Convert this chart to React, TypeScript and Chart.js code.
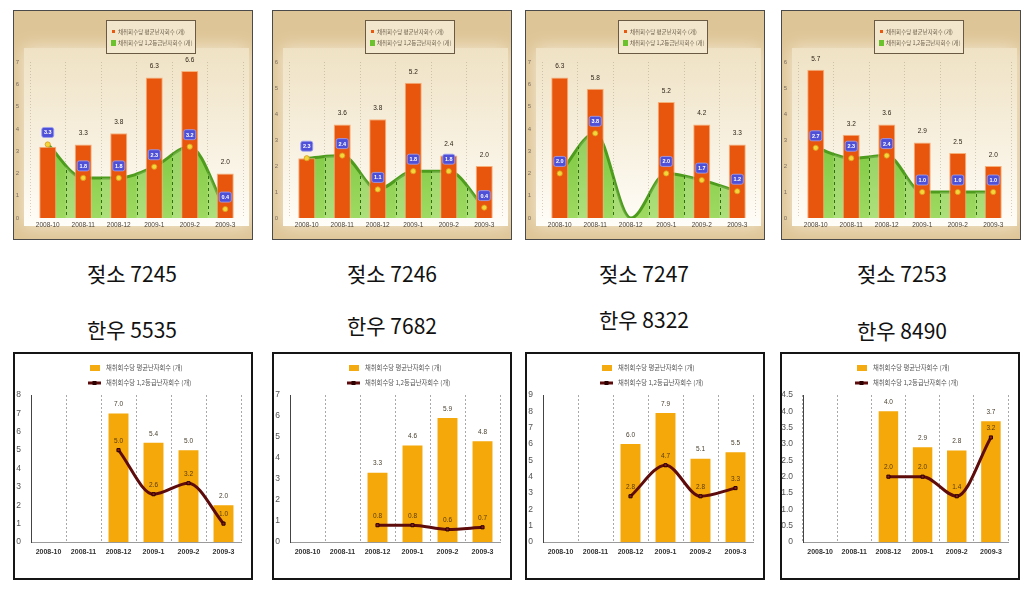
import React, { useEffect, useRef } from 'react';
import { Chart, registerables } from 'chart.js';
Chart.register(...registerables);

// ---------- data ----------
const months = ['2008-10', '2008-11', '2008-12', '2009-1', '2009-2', '2009-3'];
const legendAvg = '채취회수당 평균난자회수 (개)';
const legendGood = '채취회수당 1,2등급난자회수 (개)';

// 젖소 (dairy) – top row
const dairyIds = ['7245', '7246', '7247', '7253'];
const dairy7245Avg = [3.2, 3.3, 3.8, 6.3, 6.6, 2.0];
const dairy7245Good = [3.3, 1.8, 1.8, 2.3, 3.2, 0.4];
const dairy7246Avg = [2.3, 3.6, 3.8, 5.2, 2.4, 2.0];
const dairy7246Good = [2.3, 2.4, 1.1, 1.8, 1.8, 0.4];
const dairy7247Avg = [6.3, 5.8, null, 5.2, 4.2, 3.3];
const dairy7247Good = [2.0, 3.8, 0, 2.0, 1.7, 1.2];
const dairy7253Avg = [5.7, 3.2, 3.6, 2.9, 2.5, 2.0];
const dairy7253Good = [2.7, 2.3, 2.4, 1.0, 1.0, 1.0];
const dairyMax = [7, 6, 7, 6];

// 한우 (Hanwoo) – bottom row
const hanwooIds = ['5535', '7682', '8322', '8490'];
const hanwoo5535Avg = [null, null, 7.0, 5.4, 5.0, 2.0];
const hanwoo5535Good = [null, null, 5.0, 2.6, 3.2, 1.0];
const hanwoo7682Avg = [null, null, 3.3, 4.6, 5.9, 4.8];
const hanwoo7682Good = [null, null, 0.8, 0.8, 0.6, 0.7];
const hanwoo8322Avg = [null, null, 6.0, 7.9, 5.1, 5.5];
const hanwoo8322Good = [null, null, 2.8, 4.7, 2.8, 3.3];
const hanwoo8490Avg = [null, null, 4.0, 2.9, 2.8, 3.7];
const hanwoo8490Good = [null, null, 2.0, 2.0, 1.4, 3.2];
const hanwooMax = [8, 7, 9, 4.5];
const hanwooStep = [1, 1, 1, 0.5];

const dairyAvg = [dairy7245Avg, dairy7246Avg, dairy7247Avg, dairy7253Avg];
const dairyGood = [dairy7245Good, dairy7246Good, dairy7247Good, dairy7253Good];
const hanwooAvg = [hanwoo5535Avg, hanwoo7682Avg, hanwoo8322Avg, hanwoo8490Avg];
const hanwooGood = [hanwoo5535Good, hanwoo7682Good, hanwoo8322Good, hanwoo8490Good];

// ---------- layout ----------
const topLefts = [13, 272, 525, 781];
const bottomLefts = [13, 272, 525, 780];
const captionX = [132, 392, 644, 902];
const hanwooCaptionY = [329, 325, 319, 330];

const KFONT = '"Noto Sans CJK KR", "Noto Sans", sans-serif';
const TFONT = '"Liberation Sans", Arial, sans-serif';
const fmt = (v: number) => v.toFixed(1);

function rr(ctx: CanvasRenderingContext2D, x: number, y: number, w: number, h: number, r: number) {
  ctx.beginPath();
  ctx.moveTo(x + r, y);
  ctx.lineTo(x + w - r, y);
  ctx.quadraticCurveTo(x + w, y, x + w, y + r);
  ctx.lineTo(x + w, y + h - r);
  ctx.quadraticCurveTo(x + w, y + h, x + w - r, y + h);
  ctx.lineTo(x + r, y + h);
  ctx.quadraticCurveTo(x, y + h, x, y + h - r);
  ctx.lineTo(x, y + r);
  ctx.quadraticCurveTo(x, y, x + r, y);
  ctx.closePath();
}

function DairyChart(props: { avg: (number | null)[]; good: number[]; max: number; left: number }) {
  const ref = useRef<HTMLCanvasElement>(null);
  useEffect(() => {
    const { avg, good, max } = props;
    const bg = {
      id: 'bg',
      beforeDraw(chart: any) {
        const { ctx, chartArea: a, width, height } = chart;
        ctx.save();
        ctx.fillStyle = '#dec597';
        ctx.fillRect(0, 0, width, height);
        ctx.shadowColor = '#f4ead4';
        ctx.shadowBlur = 16;
        const g = ctx.createLinearGradient(0, a.top - 14, 0, a.bottom + 8);
        g.addColorStop(0, '#efe2c4');
        g.addColorStop(1, '#fffdf8');
        ctx.fillStyle = g;
        ctx.fillRect(a.left - 6, a.top - 14, a.right - a.left + 12, a.bottom - a.top + 22);
        ctx.restore();
      },
    };
    const area = {
      id: 'area',
      afterDatasetDraw(chart: any, args: any) {
        if (args.index !== 0) return;
        const { ctx, chartArea: a } = chart;
        const meta = chart.getDatasetMeta(0);
        const pts = meta.data;
        const xs = chart.scales.x;
        ctx.save();
        ctx.beginPath();
        try {
          meta.dataset.path(ctx);
        } catch (e) {
          pts.forEach((p: any, i: number) => (i ? ctx.lineTo(p.x, p.y) : ctx.moveTo(p.x, p.y)));
        }
        ctx.lineTo(pts[pts.length - 1].x, a.bottom);
        ctx.lineTo(pts[0].x, a.bottom);
        ctx.closePath();
        ctx.clip();
        for (let i = 0; i < months.length - 1; i++) {
          const c0 = xs.getPixelForValue(i);
          const c1 = xs.getPixelForValue(i + 1);
          const b = (c0 + c1) / 2;
          ctx.fillStyle = 'rgba(255,255,255,0.16)';
          ctx.fillRect(b, a.top, c1 - b, a.bottom - a.top);
        }
        ctx.strokeStyle = '#2f6e12';
        ctx.lineWidth = 1;
        ctx.setLineDash([3, 3]);
        for (let i = 0; i < months.length - 1; i++) {
          const b = (xs.getPixelForValue(i) + xs.getPixelForValue(i + 1)) / 2;
          ctx.beginPath();
          ctx.moveTo(Math.round(b) + 0.5, a.top);
          ctx.lineTo(Math.round(b) + 0.5, a.bottom);
          ctx.stroke();
        }
        ctx.restore();
      },
    };
    const labels = {
      id: 'labels',
      afterDatasetsDraw(chart: any) {
        const { ctx } = chart;
        const xs = chart.scales.x;
        const ys = chart.scales.y;
        ctx.save();
        ctx.textAlign = 'center';
        ctx.textBaseline = 'middle';
        ctx.font = `6.5px ${TFONT}`;
        ctx.fillStyle = '#2e2418';
        avg.forEach((v, i) => {
          if (v == null) return;
          ctx.fillText(fmt(v), xs.getPixelForValue(i), ys.getPixelForValue(v) - 11);
        });
        good.forEach((v, i) => {
          if (!v) return;
          const px = xs.getPixelForValue(i);
          const py = ys.getPixelForValue(v);
          ctx.beginPath();
          ctx.arc(px, py, 2.6, 0, Math.PI * 2);
          ctx.fillStyle = '#f3d63c';
          ctx.fill();
          ctx.strokeStyle = '#d99a1c';
          ctx.lineWidth = 0.8;
          ctx.stroke();
          const by = py - 12;
          rr(ctx, px - 6, by - 5, 12, 10, 2);
          ctx.fillStyle = '#4f50d8';
          ctx.fill();
          ctx.strokeStyle = '#a0a2f2';
          ctx.stroke();
          ctx.fillStyle = '#ffffff';
          ctx.font = `bold 5.5px ${TFONT}`;
          ctx.fillText(fmt(v), px, by + 0.5);
        });
        ctx.restore();
      },
    };
    const legend = {
      id: 'legendBox',
      afterDraw(chart: any) {
        const { ctx } = chart;
        ctx.save();
        ctx.fillStyle = 'rgba(244,234,210,0.9)';
        ctx.fillRect(92, 9, 89, 33);
        ctx.strokeStyle = '#6a5a44';
        ctx.lineWidth = 1;
        ctx.strokeRect(92.5, 9.5, 89, 33);
        ctx.fillStyle = '#e8580f';
        ctx.fillRect(98, 19, 3, 3);
        ctx.fillStyle = '#6cc22c';
        ctx.fillRect(97, 29, 5, 6);
        ctx.font = `5.5px ${KFONT}`;
        ctx.fillStyle = '#6a5a48';
        ctx.textBaseline = 'middle';
        ctx.fillText(legendAvg, 104, 20.5);
        ctx.fillText(legendGood, 104, 32);
        ctx.restore();
      },
    };
    const chart = new Chart(ref.current!, {
      type: 'bar',
      data: {
        labels: months,
        datasets: [
          {
            type: 'line',
            data: good,
            order: 2,
            fill: 'origin',
            borderColor: '#4e9c1d',
            borderWidth: 3,
            backgroundColor: (c: any) => {
              const a = c.chart.chartArea;
              if (!a) return '#7cc63a';
              const g = c.chart.ctx.createLinearGradient(0, a.top, 0, a.bottom);
              g.addColorStop(0, '#5fb622');
              g.addColorStop(1, '#9fda62');
              return g;
            },
            pointRadius: 0,
            cubicInterpolationMode: 'monotone',
          } as any,
          {
            type: 'bar',
            data: avg,
            order: 1,
            backgroundColor: '#e8560e',
            borderColor: '#f6b07a',
            borderWidth: 1,
            categoryPercentage: 1,
            barPercentage: 0.48,
          } as any,
        ],
      },
      options: {
        responsive: false,
        animation: false,
        events: [],
        layout: { padding: { top: 51, right: 9, left: 0, bottom: 0 } },
        plugins: { legend: { display: false }, tooltip: { enabled: false } },
        scales: {
          x: {
            grid: { display: true, color: 'rgba(140,125,100,0.35)', drawTicks: false, offset: true },
            border: { display: false, dash: [1, 2] },
            ticks: { font: { size: 6.5, family: TFONT }, color: '#4a4238', padding: 3, maxRotation: 0, autoSkip: false },
            afterFit: (s: any) => { s.height = 21; },
          },
          y: {
            min: 0,
            max,
            grid: { display: false },
            border: { display: false },
            ticks: { stepSize: 1, font: { size: 6, family: TFONT }, color: '#7a6e60', padding: 3 },
            afterFit: (s: any) => { s.width = 16; },
          },
        },
      } as any,
      plugins: [bg, area, labels, legend],
    });
    return () => chart.destroy();
  }, []);
  return (
    <div style={{ position: 'absolute', left: props.left, top: 10, width: 240, height: 230, border: '1px solid #4a4a4a', boxSizing: 'border-box' }}>
      <canvas ref={ref} width={238} height={228} style={{ display: 'block' }} />
    </div>
  );
}

function HanwooChart(props: { avg: (number | null)[]; good: (number | null)[]; max: number; step: number; left: number }) {
  const ref = useRef<HTMLCanvasElement>(null);
  useEffect(() => {
    const { avg, good, max, step } = props;
    const labels = {
      id: 'labels',
      afterDatasetsDraw(chart: any) {
        const { ctx } = chart;
        const xs = chart.scales.x;
        const ys = chart.scales.y;
        ctx.save();
        ctx.textAlign = 'center';
        ctx.textBaseline = 'middle';
        ctx.font = `6.5px ${TFONT}`;
        ctx.fillStyle = '#4a4030';
        avg.forEach((v, i) => {
          if (v == null) return;
          ctx.fillText(fmt(v), xs.getPixelForValue(i), ys.getPixelForValue(v) - 9);
        });
        ctx.fillStyle = '#5a3a10';
        good.forEach((v, i) => {
          if (v == null) return;
          ctx.fillText(fmt(v), xs.getPixelForValue(i), ys.getPixelForValue(v) - 9);
        });
        ctx.restore();
      },
    };
    const legend = {
      id: 'legendTop',
      afterDraw(chart: any) {
        const { ctx } = chart;
        ctx.save();
        ctx.fillStyle = '#f4ab12';
        ctx.fillRect(75, 11, 10, 6);
        ctx.strokeStyle = '#5e0b0b';
        ctx.lineWidth = 3;
        ctx.beginPath();
        ctx.moveTo(73, 29);
        ctx.lineTo(86, 29);
        ctx.stroke();
        ctx.fillStyle = '#2a0000';
        ctx.fillRect(77.5, 27, 4, 4);
        ctx.font = `6.3px ${KFONT}`;
        ctx.fillStyle = '#555';
        ctx.textBaseline = 'middle';
        ctx.fillText(legendAvg, 91, 14);
        ctx.fillText(legendGood, 91, 29);
        ctx.restore();
      },
    };
    const chart = new Chart(ref.current!, {
      type: 'bar',
      data: {
        labels: months,
        datasets: [
          {
            type: 'line',
            data: good,
            order: 1,
            borderColor: '#5e0b0b',
            borderWidth: 3,
            pointRadius: 2.2,
            pointStyle: 'rect',
            pointBackgroundColor: '#8c1f1f',
            pointBorderColor: '#2a0000',
            pointBorderWidth: 1,
            cubicInterpolationMode: 'monotone',
          } as any,
          {
            type: 'bar',
            data: avg,
            order: 2,
            backgroundColor: '#f4a80a',
            categoryPercentage: 1,
            barPercentage: 0.57,
          } as any,
        ],
      },
      options: {
        responsive: false,
        animation: false,
        events: [],
        layout: { padding: { top: 41, right: 10, left: 0, bottom: 0 } },
        plugins: { legend: { display: false }, tooltip: { enabled: false } },
        scales: {
          x: {
            grid: { display: true, color: '#a8a8a8', drawTicks: false, offset: true },
            border: { display: true, color: '#9a9a9a', width: 1, dash: [2, 2] },
            ticks: { font: { size: 7, weight: 'bold', family: TFONT }, color: '#333', padding: 6, maxRotation: 0, autoSkip: false },
            afterFit: (s: any) => { s.height = 36; },
          },
          y: {
            min: 0,
            max,
            grid: { display: false },
            border: { display: true, color: '#444', width: 1 },
            ticks: { stepSize: step, font: { size: 8.5, family: TFONT }, color: '#555', padding: 2 },
            afterFit: (s: any) => { s.width = step < 1 ? 21 : 16; },
          },
        },
      } as any,
      plugins: [labels, legend],
    });
    return () => chart.destroy();
  }, []);
  return (
    <div style={{ position: 'absolute', left: props.left, top: 352, width: 240, height: 228, border: '2px solid #151515', boxSizing: 'border-box', background: '#fff' }}>
      <canvas ref={ref} width={236} height={224} style={{ display: 'block' }} />
    </div>
  );
}

const captionStyle = (x: number, y: number): React.CSSProperties => ({
  position: 'absolute',
  left: x,
  top: y,
  transform: 'translate(-50%, -50%)',
  font: `21px ${KFONT}`,
  color: '#111',
  whiteSpace: 'nowrap',
  lineHeight: 1,
});

export default function App() {
  return (
    <div style={{ position: 'absolute', left: 0, top: 0, width: 1030, height: 592, background: '#fff', overflow: 'hidden' }}>
      {dairyIds.map((id, i) => (
        <DairyChart key={'d' + id} avg={dairyAvg[i]} good={dairyGood[i]} max={dairyMax[i]} left={topLefts[i]} />
      ))}
      {dairyIds.map((id, i) => (
        <div key={'dc' + id} style={captionStyle(captionX[i], 273)}>{'젖소 ' + id}</div>
      ))}
      {hanwooIds.map((id, i) => (
        <div key={'hc' + id} style={captionStyle(captionX[i], hanwooCaptionY[i])}>{'한우 ' + id}</div>
      ))}
      {hanwooIds.map((id, i) => (
        <HanwooChart key={'h' + id} avg={hanwooAvg[i]} good={hanwooGood[i]} max={hanwooMax[i]} step={hanwooStep[i]} left={bottomLefts[i]} />
      ))}
    </div>
  );
}
